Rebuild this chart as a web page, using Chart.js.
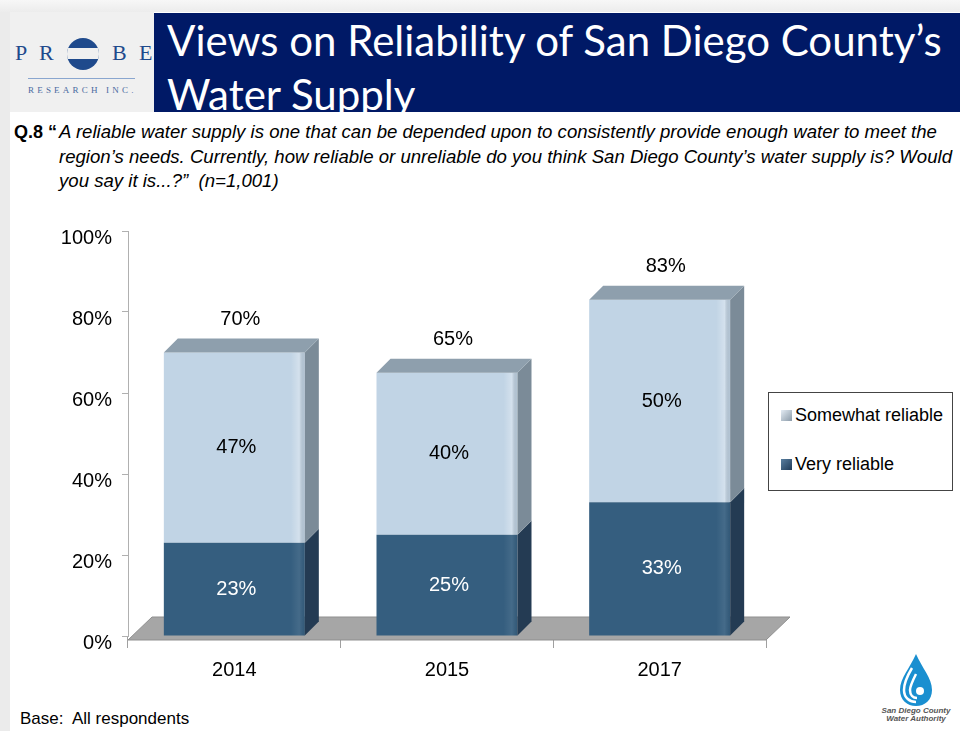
<!DOCTYPE html>
<html>
<head>
<meta charset="utf-8">
<script src="https://cdn.jsdelivr.net/npm/chart.js@4.4.1/dist/chart.umd.min.js"></script>
<style>
    body { margin: 0; width: 960px; height: 731px; position: relative; overflow: hidden; background: #fff; font-family: "Liberation Sans", Arial, sans-serif; }
    .abs { position: absolute; }
    #leftStrip { left: 0; top: 0; width: 10px; height: 731px; background: #ebebeb; }
    #topStrip { left: 0; top: 0; width: 960px; height: 12px; background: linear-gradient(#f7f7f7, #ececec); }
    #logoBox { left: 10px; top: 12px; width: 144px; height: 100px; background: #f0f0f0; }
    #titleBar { left: 154px; top: 13px; width: 806px; height: 99px; background: #001966; overflow: hidden; }
    #titleBar div { position: absolute; left: 13px; color: #fff; font-family: Lato, "Open Sans", sans-serif; font-size: 42px; white-space: nowrap; }
    .probe { font-family: "Liberation Serif", serif; color: #1f4a8c; font-size: 22px; }
    #question { left: 14px; top: 120px; width: 940px; line-height: 24.5px; color: #000; }
    #question .q { position: absolute; left: 0; top: 0; font-weight: bold; font-size: 18px; white-space: nowrap; }
    #question .t { position: absolute; left: 45px; top: 0; font-style: italic; font-size: 18.6px; white-space: nowrap; }
    #chartWrap { left: 0; top: 209px; width: 800px; height: 491px; }
    #legend { left: 768px; top: 392px; width: 183px; height: 97px; border: 1px solid #444; background: #fff; }
    .item { position: absolute; left: 12px; font-size: 18px; color: #000; white-space: nowrap; }
    .sw { display: inline-block; width: 11px; height: 11px; margin-right: 3px; vertical-align: 0px; }
    #base { left: 20px; top: 709px; font-size: 17px; color: #000; }
</style>
</head>
<body>
<div id="leftStrip" class="abs"></div>
<div id="topStrip" class="abs"></div>
<div id="logoBox" class="abs"></div>
<div class="abs probe" style="left:15px;top:40px;">P</div>
<div class="abs probe" style="left:39px;top:40px;">R</div>
<div class="abs probe" style="left:112px;top:40px;">B</div>
<div class="abs probe" style="left:139px;top:40px;">E</div>
<svg class="abs" style="left:64px;top:36px;" width="38" height="36" viewBox="0 0 38 36">
    <defs><clipPath id="cc"><circle cx="19" cy="18" r="16"/></clipPath></defs>
    <g clip-path="url(#cc)">
        <rect x="0" y="0" width="38" height="36" fill="#1f4a8c"/>
        <rect x="0" y="12" width="38" height="11" fill="#f0f0f0"/>
    </g>
</svg>
<div class="abs" style="left:28px;top:78px;width:107px;height:1px;background:#8aa6cf;"></div>
<div class="abs" style="left:28px;top:85px;font-family:'Liberation Serif',serif;font-size:9px;letter-spacing:3.2px;color:#4a6aa0;">RESEARCH INC.</div>

<div id="titleBar" class="abs">
    <div style="top:2px;">Views on Reliability of San Diego County’s</div>
    <div style="top:56px;">Water Supply</div>
</div>

<div id="question" class="abs">
    <span class="q">Q.8 “</span>
    <span class="t">A reliable water supply is one that can be depended upon to consistently provide enough water to meet the<br>region’s needs. Currently, how reliable or unreliable do you think San Diego County’s water supply is? Would<br>you say it is...?”&nbsp; (n=1,001)</span>
</div>

<div id="chartWrap" class="abs"><canvas id="chart"></canvas></div>
<div id="legend" class="abs"></div>

<div id="base" class="abs">Base:&nbsp; All respondents</div>

<svg class="abs" style="left:872px;top:650px;" width="88" height="76" viewBox="0 0 88 76">
    <path d="M44 4 C38 18 28 28 28 40 C28 50 35 56 44 56 C53 56 60 50 60 40 C60 28 50 18 44 4 Z" fill="#1a8fd0"/>
    <path d="M40 18 C34 28 32 34 32 40 C32 48 38 52 44 52" fill="none" stroke="#fff" stroke-width="2.5"/>
    <path d="M44 24 C40 32 38 36 38 40 C38 45 41 48 45 48" fill="none" stroke="#fff" stroke-width="2.5"/>
    <circle cx="48" cy="41" r="4" fill="#fff"/>
    <text x="44" y="63" text-anchor="middle" font-family="Liberation Sans, Arial" font-size="8" font-style="italic" font-weight="bold" fill="#555">San Diego County</text>
    <text x="44" y="71" text-anchor="middle" font-family="Liberation Sans, Arial" font-size="8" font-style="italic" font-weight="bold" fill="#555">Water Authority</text>
</svg>

<script>
    const years = ['2014', '2015', '2017'];
    const veryReliable = [23, 25, 33];
    const somewhatReliable = [47, 40, 50];
    const seriesNames = ['Very reliable', 'Somewhat reliable'];
    const yTicks = [0, 20, 40, 60, 80, 100];

    const frontColors = ['#355e7f', '#c1d4e5'];
    const sideColors = ['#243b53', '#7b8b98'];
    const topColor = '#8e9fad';
    const swatchColors = [['#5a7fa0', '#1f3b58'], ['#e4ecf4', '#8a9aa8']];
    const depth = 14;

    // legend (top series first, like the original)
    const legend = document.getElementById('legend');
    [1, 0].forEach((s, i) => {
        const item = document.createElement('div');
        item.className = 'item';
        item.style.top = (i === 0 ? 12 : 61) + 'px';
        item.innerHTML = '<span class="sw" style="background:linear-gradient(135deg,' + swatchColors[s][0] + ',' + swatchColors[s][1] + ')"></span>' + seriesNames[s];
        legend.appendChild(item);
    });

    function poly(ctx, pts, fill) {
        ctx.beginPath();
        ctx.moveTo(pts[0][0], pts[0][1]);
        for (let i = 1; i < pts.length; i++) ctx.lineTo(pts[i][0], pts[i][1]);
        ctx.closePath();
        ctx.fillStyle = fill;
        ctx.fill();
    }

    const bars3d = {
        id: 'bars3d',
        beforeDatasetsDraw(chart) {
            const ctx = chart.ctx;
            const a = chart.chartArea;
            const yf = a.bottom + 4, yb = a.bottom - 19;
            ctx.save();
            poly(ctx, [[a.left, yf], [a.right, yf], [a.right + 24, yb], [a.left + 24, yb]], '#a6a6a6');
            ctx.strokeStyle = '#8f8f8f';
            ctx.lineWidth = 1;
            ctx.stroke();
            ctx.restore();
        },
        afterDatasetsDraw(chart) {
            const ctx = chart.ctx;
            ctx.save();
            chart.data.datasets.forEach((ds, di) => {
                const meta = chart.getDatasetMeta(di);
                meta.data.forEach(bar => {
                    const x1 = bar.x - bar.width / 2, x2 = bar.x + bar.width / 2;
                    const yT = bar.y, yB = bar.base;
                    poly(ctx, [[x2, yB], [x2, yT], [x2 + depth, yT - depth], [x2 + depth, yB - depth]], sideColors[di]);
                    // soft highlight near the right edge of the front face
                    const g = ctx.createLinearGradient(x2 - 14, 0, x2, 0);
                    g.addColorStop(0, 'rgba(255,255,255,0)');
                    g.addColorStop(0.6, 'rgba(255,255,255,' + (di === 0 ? 0.08 : 0.3) + ')');
                    g.addColorStop(1, 'rgba(0,0,0,0.06)');
                    ctx.fillStyle = g;
                    ctx.fillRect(x2 - 14, yT, 14, yB - yT);
                    if (di === chart.data.datasets.length - 1) {
                        poly(ctx, [[x1, yT], [x1 + depth, yT - depth], [x2 + depth, yT - depth], [x2, yT]], topColor);
                    }
                });
            });

            ctx.font = '20px "Liberation Sans", Arial, sans-serif';
            ctx.textAlign = 'center';
            ctx.textBaseline = 'middle';
            chart.data.datasets.forEach((ds, di) => {
                const meta = chart.getDatasetMeta(di);
                meta.data.forEach((bar, i) => {
                    ctx.fillStyle = di === 0 ? '#ffffff' : '#000000';
                    ctx.fillText(ds.data[i] + '%', bar.x + 2, (bar.y + bar.base) / 2);
                });
            });
            const topMeta = chart.getDatasetMeta(chart.data.datasets.length - 1);
            topMeta.data.forEach((bar, i) => {
                const total = veryReliable[i] + somewhatReliable[i];
                ctx.fillStyle = '#000000';
                ctx.fillText(total + '%', bar.x + 6, bar.y - 33);
            });
            ctx.restore();
        }
    };

    new Chart(document.getElementById('chart'), {
        type: 'bar',
        data: {
            labels: years,
            datasets: [
                { label: seriesNames[0], data: veryReliable, backgroundColor: frontColors[0], borderWidth: 0 },
                { label: seriesNames[1], data: somewhatReliable, backgroundColor: frontColors[1], borderWidth: 0 }
            ]
        },
        options: {
            responsive: true,
            maintainAspectRatio: false,
            animation: false,
            layout: { padding: { top: 13, right: 34, bottom: 0, left: 0 } },
            datasets: { bar: { categoryPercentage: 1, barPercentage: 0.663 } },
            plugins: { legend: { display: false }, tooltip: { enabled: false } },
            scales: {
                x: {
                    stacked: true,
                    border: { display: false },
                    grid: { offset: true, drawOnChartArea: false, tickLength: 12, color: '#a0a0a0' },
                    ticks: { color: '#000', padding: 10, font: { size: 20, family: '"Liberation Sans", Arial, sans-serif' } },
                    afterFit(scale) { scale.height = 64; }
                },
                y: {
                    stacked: true,
                    min: 0,
                    max: 100,
                    afterBuildTicks(scale) { scale.ticks = yTicks.map(v => ({ value: v })); },
                    border: { color: '#b0b0b0' },
                    grid: { drawOnChartArea: false, tickLength: 6, color: '#b0b0b0' },
                    ticks: {
                        color: '#000',
                        padding: 10,
                        labelOffset: 7,
                        font: { size: 20, family: '"Liberation Sans", Arial, sans-serif' },
                        callback: v => v + '%'
                    },
                    afterFit(scale) { scale.width = 128; }
                }
            }
        },
        plugins: [bars3d]
    });
</script>
</body>
</html>
